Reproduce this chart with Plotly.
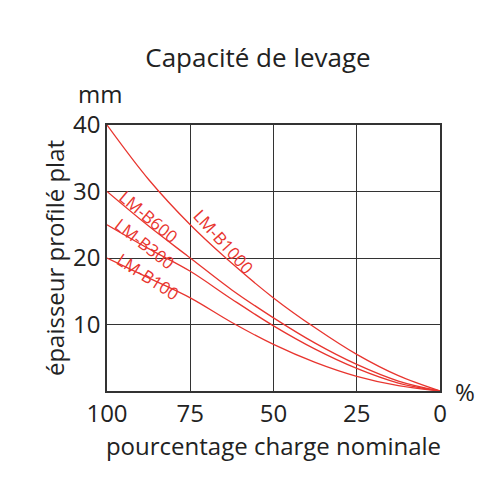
import plotly.graph_objects as go

x = [100, 87.5, 75, 62.5, 50, 37.5, 25, 12.5, 0]
b1000 = [40, 31.8, 25.0, 19.2, 14.0, 9.5, 5.5, 2.3, 0]
b600 = [30, 24.8, 20, 15.2, 11.0, 7.2, 4.0, 1.5, 0]
b300 = [25, 21.4, 18, 13.8, 9.8, 6.3, 3.4, 1.2, 0]
b100 = [20, 17, 14, 10.3, 7.0, 4.3, 2.2, 0.8, 0]
series = {"LM-B1000": b1000, "LM-B600": b600, "LM-B300": b300, "LM-B100": b100}
labels = [("LM-B1000", 65, 22.5, 48), ("LM-B600", 87.5, 26.3, 40),
          ("LM-B300", 88.7, 22.2, 38), ("LM-B100", 87.7, 17.2, 33)]

red = "#e8352f"
fig = go.Figure()
for name, ys in series.items():
    fig.add_trace(go.Scatter(x=x, y=ys, mode="lines", line=dict(color=red, width=1.3, shape="spline", smoothing=1.0), name=name))
for t, lx, ly, ang in labels:
    fig.add_annotation(x=lx, y=ly, text=t, showarrow=False, textangle=ang,
                       font=dict(color=red, size=17, family="Open Sans"))
fig.add_annotation(xref="paper", yref="paper", x=-0.02, y=1.05, text="mm", showarrow=False,
                   xanchor="center", yanchor="bottom", font=dict(size=24, color="#222", weight=500))
fig.add_annotation(xref="paper", yref="paper", x=1.04, y=0, text="%", showarrow=False,
                   xanchor="left", yanchor="middle", font=dict(size=24, color="#222", weight=500))
fig.update_layout(
    width=500, height=500, showlegend=False, plot_bgcolor="white", paper_bgcolor="white",
    margin=dict(l=99, r=68, t=117, b=117, autoexpand=False),
    font=dict(family="Open Sans", color="#222", size=24, weight=500),
    title=dict(text="Capacité de levage", x=0.5, xanchor="center", y=0.9, yanchor="middle", font=dict(size=26, weight=500)),
    xaxis=dict(range=[100, 0], tickvals=[100, 75, 50, 25, 0], showgrid=True, gridcolor="#333", gridwidth=1,
               showline=True, mirror=True, linecolor="#333", linewidth=1.5, zeroline=False, automargin=False,
               title=dict(text="pourcentage charge nominale", standoff=2, font=dict(size=24, weight=500)), ticks=""),
    yaxis=dict(range=[0, 40], tickvals=[10, 20, 30, 40], showgrid=True, gridcolor="#333", gridwidth=1,
               showline=True, mirror=True, linecolor="#333", linewidth=1.5, zeroline=False, automargin=False,
               title=dict(text="épaisseur profilé plat", standoff=2, font=dict(size=24, weight=500)), ticks=""),
)
fig.write_html("out.html")
